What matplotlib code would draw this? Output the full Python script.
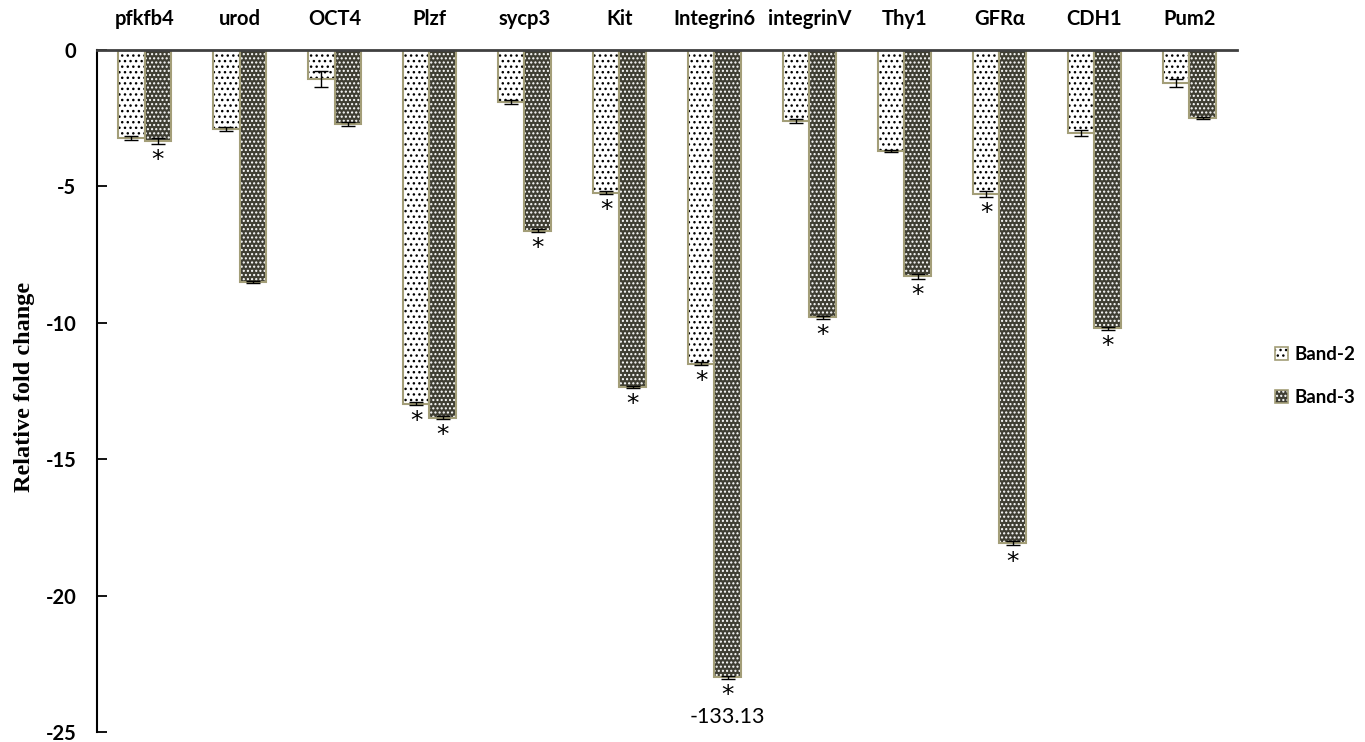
import matplotlib
matplotlib.use("Agg")
import matplotlib.pyplot as plt
import numpy as np
from matplotlib.patches import Patch

""" Relative fold change, Band-2 vs Band-3 """

genes = ["pfkfb4", "urod", "OCT4", "Plzf", "sycp3", "Kit", "Integrin6",
         "integrinV", "Thy1", "GFRα", "CDH1", "Pum2"]
band2 = [-3.22, -2.90, -1.06, -12.97, -1.91, -5.23, -11.50, -2.60, -3.70, -5.28, -3.05, -1.20]
# Integrin6 Band-3 is really -133.13, the bar is cut at -23
band3 = [-3.33, -8.50, -2.72, -13.48, -6.62, -12.35, -23.00, -9.80, -8.30, -18.08, -10.20, -2.50]
err2 = [0.07, 0.06, 0.30, 0.05, 0.08, 0.05, 0.05, 0.08, 0.05, 0.10, 0.10, 0.15]
err3 = [0.10, 0.03, 0.08, 0.05, 0.05, 0.03, 0.05, 0.05, 0.10, 0.08, 0.05, 0.03]
sig2 = [0, 0, 0, 1, 0, 1, 1, 0, 0, 1, 0, 0]
sig3 = [1, 0, 0, 1, 1, 1, 1, 1, 1, 1, 1, 0]
cut_labels = {6: "-133.13"}
yticks = [0, -5, -10, -15, -20, -25]

edge = "#a39e78"
dark = "#3f3e33"
plt.rcParams['hatch.linewidth'] = 1.0

fig = plt.figure(figsize=(13.65, 7.42), dpi=100)
ax = fig.add_axes([0.0711, 0.0135, 0.835, 0.9191])

x = np.arange(len(genes))
w = 0.28
x2 = x - w / 2
x3 = x + w / 2

# Band-2: white with black dots
ax.bar(x2, band2, w, color="white", edgecolor="black", linewidth=0, hatch="...")
ax.bar(x2, band2, w, color="none", edgecolor=edge, linewidth=1.5)
# Band-3: dark olive with small white marks
ax.bar(x3, band3, w, color=dark, linewidth=0)
ax.bar(x3, band3, w, color="none", edgecolor="white", linewidth=0, hatch="....")
ax.bar(x3, band3, w, color="none", edgecolor=edge, linewidth=1.5)

ax.errorbar(x2, band2, yerr=err2, fmt="none", ecolor="black", elinewidth=1, capsize=5)
ax.errorbar(x3, band3, yerr=err3, fmt="none", ecolor="black", elinewidth=1, capsize=5)

for i in range(len(genes)):
    if sig2[i]:
        ax.annotate("*", xy=(x2[i], band2[i] - err2[i]), xytext=(0, -3), textcoords="offset points",
                    ha="center", va="top", fontsize=18)
    if sig3[i]:
        ax.annotate("*", xy=(x3[i], band3[i] - err3[i]), xytext=(0, -3), textcoords="offset points",
                    ha="center", va="top", fontsize=18)
for i, lab in cut_labels.items():
    ax.annotate(lab, xy=(x3[i], band3[i]), xytext=(0, -21), textcoords="offset points",
                ha="center", va="top", fontsize=15.5, family="Lato")

ax.set_xlim(-0.5, len(genes) - 0.5)
ax.set_ylim(-25, 0)
ax.xaxis.tick_top()
ax.set_xticks(x)
ax.set_xticklabels(genes, fontsize=14.5, fontweight="bold", family="Lato")
ax.tick_params(axis="x", length=0, pad=15)
ax.set_yticks(yticks)
ax.set_yticklabels([str(t) for t in yticks], fontsize=14.5, fontweight="bold", family="Lato")
ax.tick_params(axis="y", direction="in", length=7, width=1.3, pad=15)

ax.spines["right"].set_visible(False)
ax.spines["bottom"].set_visible(False)
ax.spines["top"].set_color("#404040")
ax.spines["top"].set_linewidth(2)
ax.spines["left"].set_linewidth(1.5)

fig.text(0.0176, 0.478, "Relative fold change", rotation=90, ha="center", va="center",
         fontsize=17.5, fontweight="bold", family="Liberation Serif")

h2 = (Patch(facecolor="white", edgecolor="black", linewidth=0, hatch="..."),
      Patch(facecolor="none", edgecolor=edge, linewidth=1.2))
h3 = (Patch(facecolor=dark, linewidth=0),
      Patch(facecolor="none", edgecolor="white", linewidth=0, hatch="...."),
      Patch(facecolor="none", edgecolor=edge, linewidth=1.2))
fig.legend([h2, h3], ["Band-2", "Band-3"], loc="center left", bbox_to_anchor=(0.934, 0.493),
           frameon=False, borderpad=0, borderaxespad=0, handlelength=0.7, handleheight=0.7,
           handletextpad=0.35, labelspacing=1.4,
           prop={"family": "Lato", "weight": "bold", "size": 13.5})

fig.savefig("out.png", dpi=100)
